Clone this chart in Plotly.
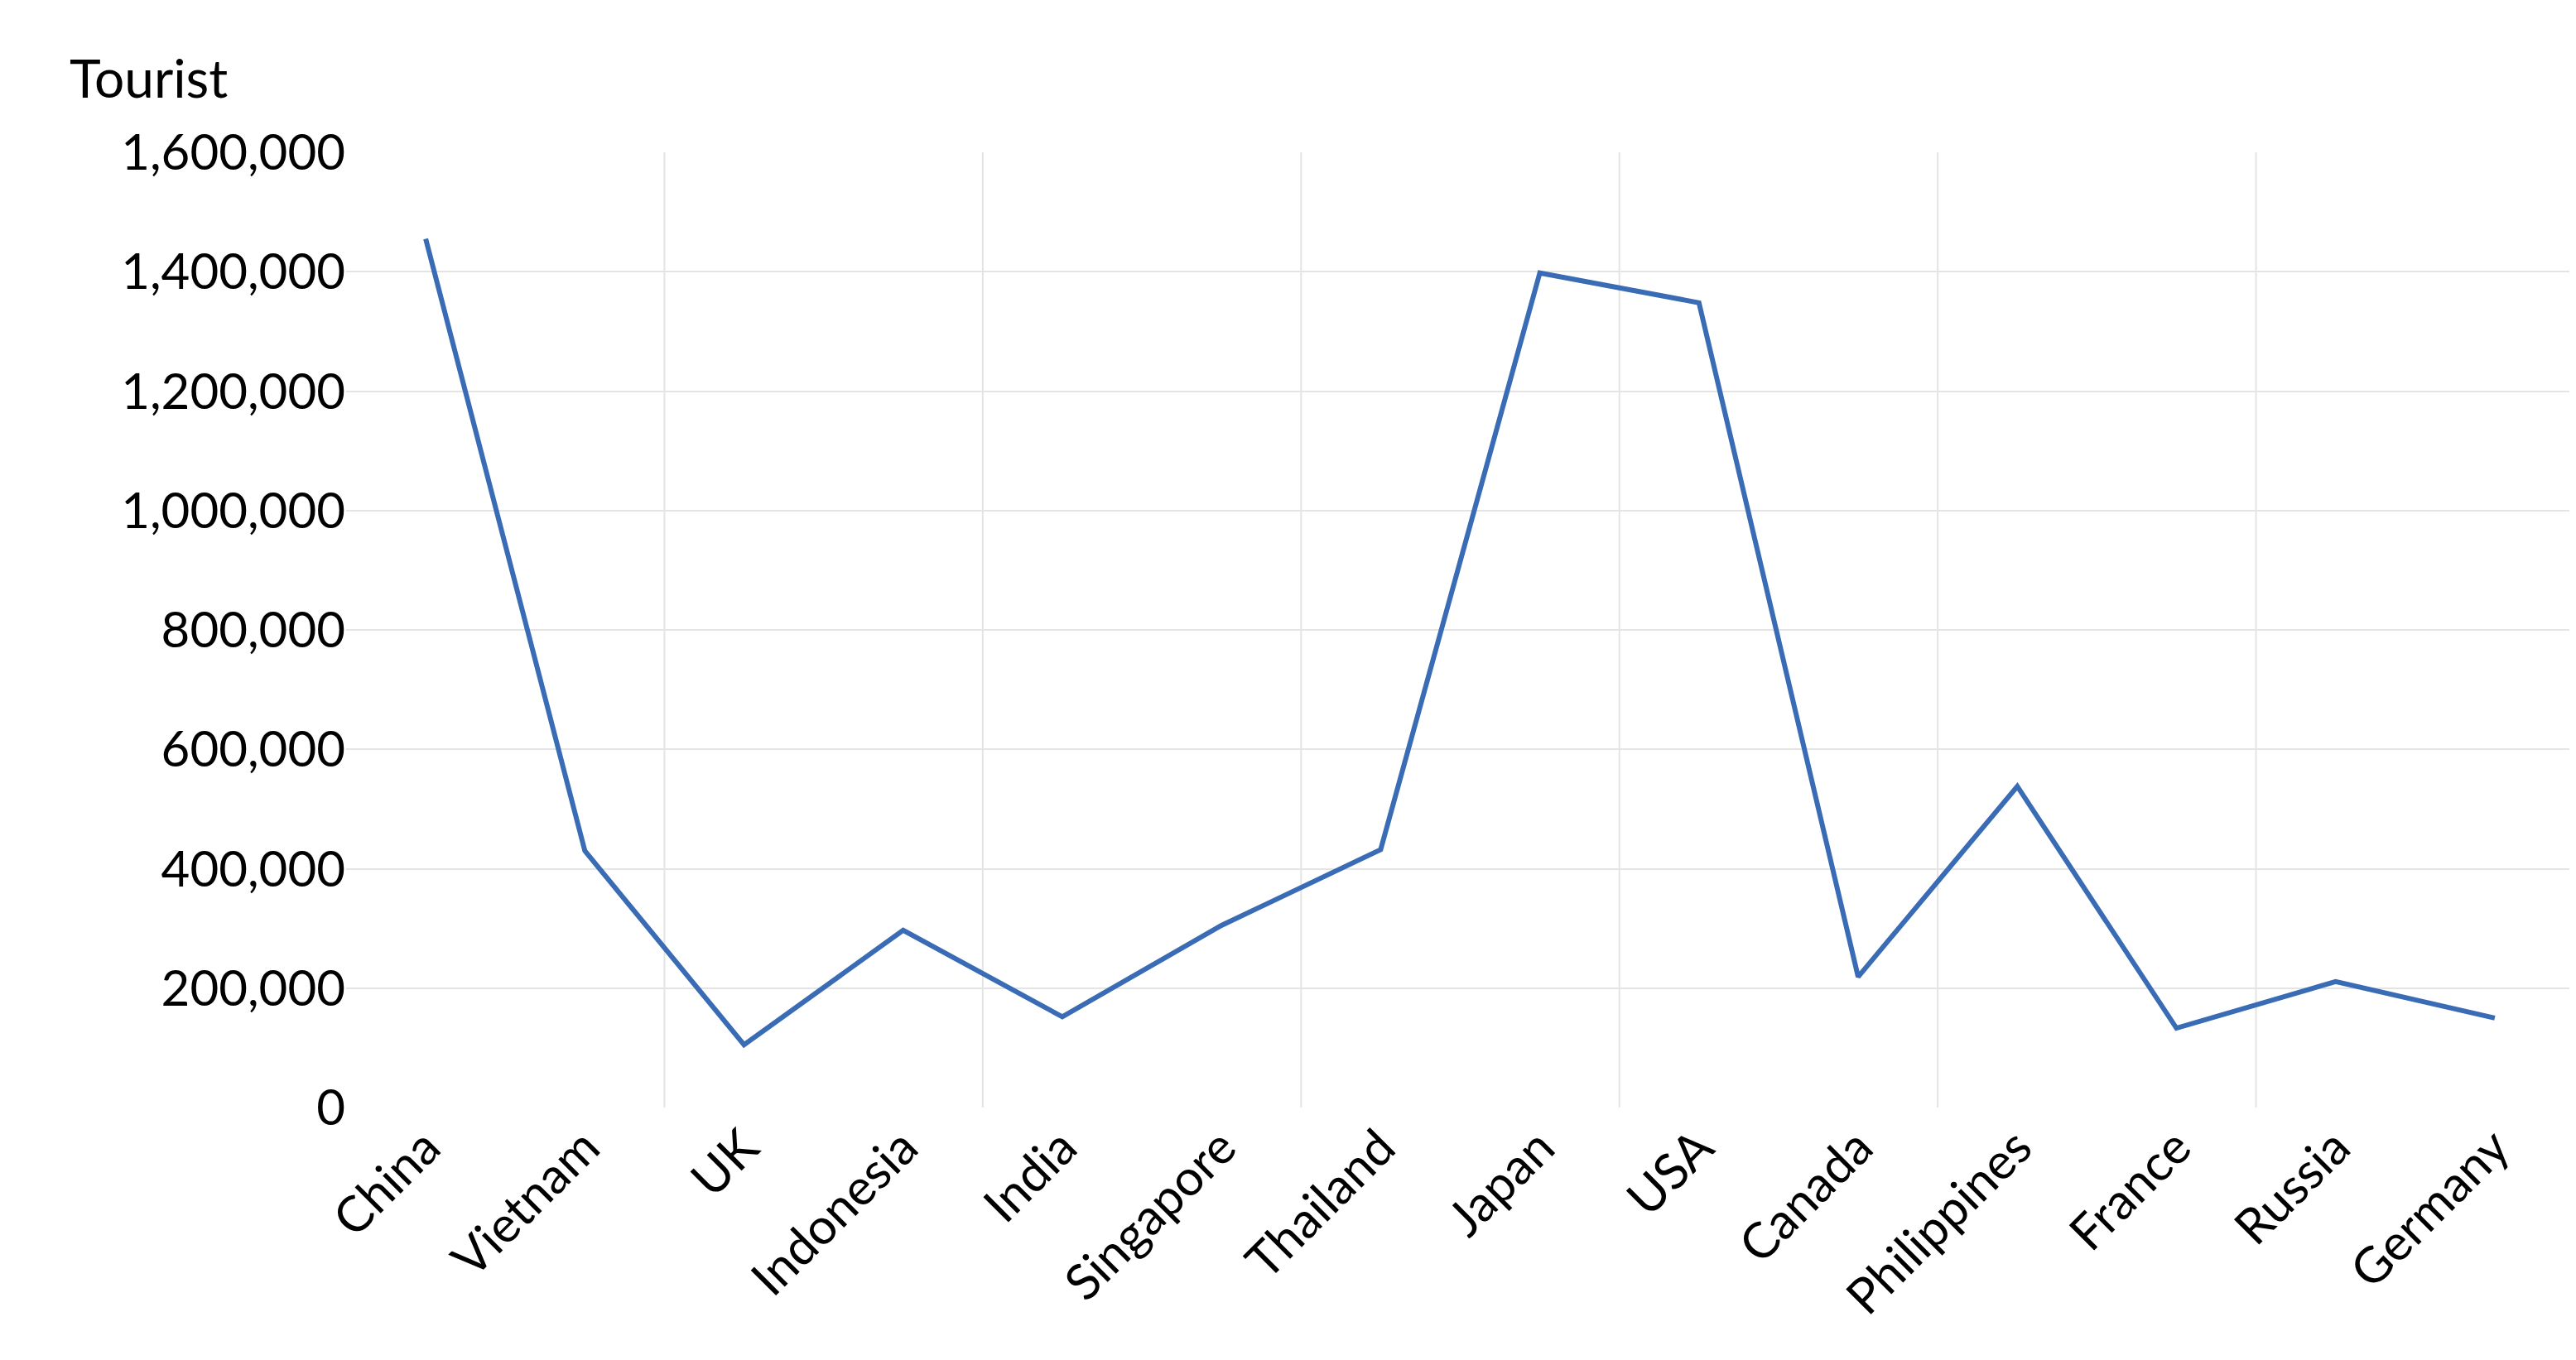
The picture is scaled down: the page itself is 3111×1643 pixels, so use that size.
import plotly.graph_objects as go

countries = ["China","Vietnam","UK","Indonesia","India","Singapore","Thailand","Japan","USA","Canada","Philippines","France","Russia","Germany"]
tourists = [1455000,430000,105000,297000,152000,305000,432000,1398000,1348000,219000,538000,133000,211000,150000]
y_ticks = [0,200000,400000,600000,800000,1000000,1200000,1400000,1600000]

idx = list(range(len(countries)))
fig = go.Figure(go.Scatter(x=idx, y=tourists, mode="lines",
                           line=dict(color="#3a6bb5", width=6)))
shapes = [dict(type="line", xref="x", yref="y", x0=g, x1=g, y0=0, y1=1600000,
               line=dict(color="#e4e4e4", width=2), layer="below")
          for g in [1.5,3.5,5.5,7.5,9.5,11.5]]
fig.update_layout(
    width=3111, height=1643, plot_bgcolor="white", paper_bgcolor="white",
    margin=dict(l=410, r=10, t=176, b=313),
    font=dict(family="Lato, Open Sans, sans-serif", size=60, color="black"),
    showlegend=False, shapes=shapes,
    annotations=[dict(text="Tourist", xref="paper", yref="paper", x=-0.125, y=1.0,
                      xanchor="left", yanchor="bottom", yshift=50, showarrow=False,
                      font=dict(size=64))],
)
fig.update_xaxes(range=[-0.5,13.5], tickvals=idx, ticktext=countries, tickangle=-45,
                 showgrid=False, zeroline=False, showline=False, ticks="")
fig.update_yaxes(range=[0,1600000], tickvals=y_ticks, tickformat=",d",
                 gridcolor="#e4e4e4", gridwidth=2, zeroline=False, showline=False, ticklen=0)
fig.write_html("out.html")
